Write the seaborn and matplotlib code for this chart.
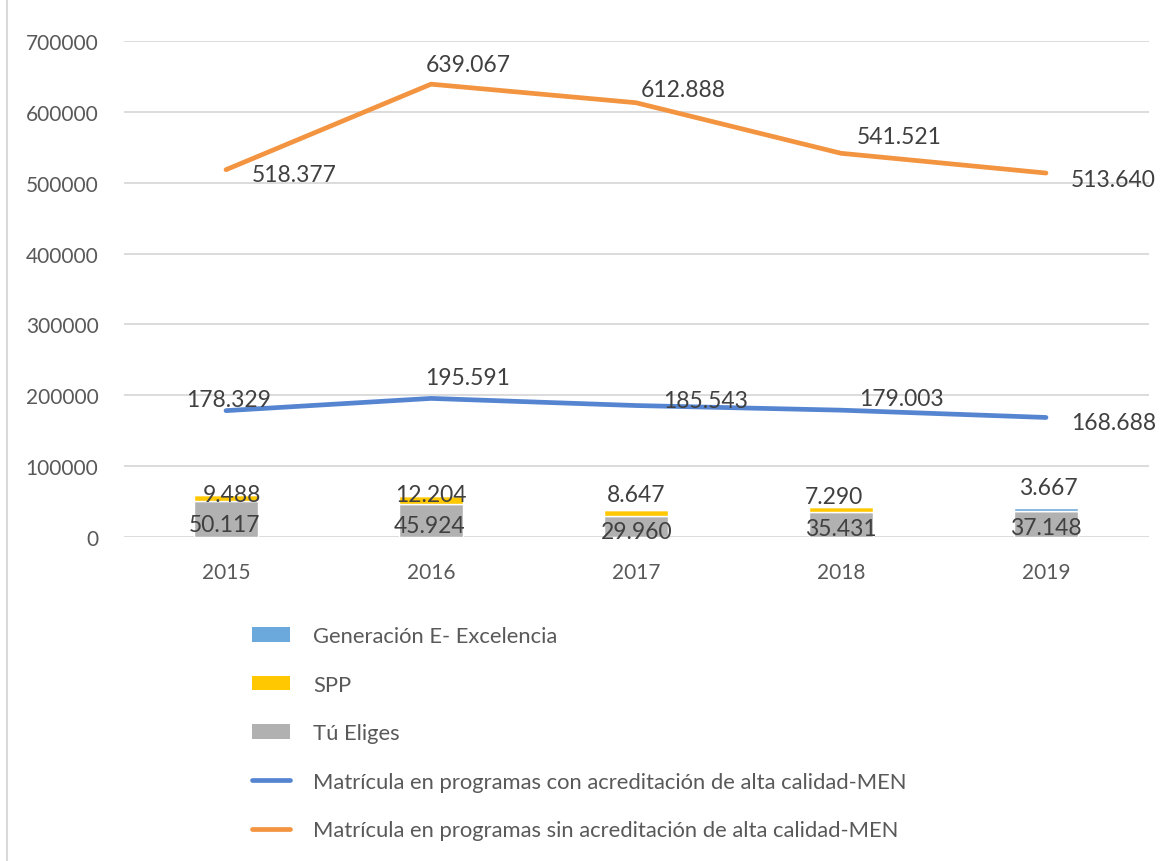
import numpy as np
import matplotlib
matplotlib.use("Agg")
import matplotlib.pyplot as plt
import seaborn as sns
import pandas as pd
from matplotlib.patches import Patch
from matplotlib.lines import Line2D

# ---------------- data ----------------
years = ["2015", "2016", "2017", "2018", "2019"]
tu_eliges = [50117, 45924, 29960, 35431, 37148]
spp = [9488, 12204, 8647, 7290, 0]
generacion_e = [0, 0, 0, 0, 3667]
con_acred = [178329, 195591, 185543, 179003, 168688]
sin_acred = [518377, 639067, 612888, 541521, 513640]

labels_legend = [
    "Generación E- Excelencia",
    "SPP",
    "Tú Eliges",
    "Matrícula en programas con acreditación de alta calidad-MEN",
    "Matrícula en programas sin acreditación de alta calidad-MEN",
]

# ---------------- style ----------------
sns.set_theme(style="white")
plt.rcParams["font.family"] = ["Lato", "DejaVu Sans"]

c_gray = "#B1B1B1"
c_yellow = "#FFC800"
c_lblue = "#6BA8DC"
c_blue = "#5585D0"
c_orange = "#F39441"
c_txt = "#404040"
c_tick = "#595959"
c_grid = "#D9D9D9"

W, H = 1176, 862
fig = plt.figure(figsize=(W / 100, H / 100), dpi=100)
ax = fig.add_axes([123.5 / W, 1 - 538 / H, (1148.5 - 123.5) / W, (538 - 42) / H])

x = np.arange(len(years))
bw = 0.317

df = pd.DataFrame({"x": x, "year": years, "con": con_acred, "sin": sin_acred})

# stacked bars
ax.bar(x, tu_eliges, width=bw, color=c_gray, zorder=2)
ax.bar(x, spp, width=bw, bottom=tu_eliges, color=c_yellow, zorder=2)
base2 = np.array(tu_eliges) + np.array(spp)
ax.bar(x, generacion_e, width=bw, bottom=base2, color=c_lblue, zorder=2)

# lines
sns.lineplot(data=df, x="x", y="con", ax=ax, color=c_blue, lw=3.4,
             solid_capstyle="round", zorder=3, legend=False)
sns.lineplot(data=df, x="x", y="sin", ax=ax, color=c_orange, lw=3.4,
             solid_capstyle="round", zorder=3, legend=False)

ax.set_xlim(-0.5, 4.5)
ax.set_ylim(0, 700000)
ax.set_yticks(np.arange(0, 700001, 100000))
ax.set_yticklabels([f"{int(v)}" for v in np.arange(0, 700001, 100000)])
ax.set_xticks(x)
ax.set_xticklabels(years)
ax.set_xlabel("")
ax.set_ylabel("")
ax.grid(axis="y", color=c_grid, lw=1.3, zorder=0)
ax.grid(axis="x", visible=False)
for s in ax.spines.values():
    s.set_visible(False)
ax.tick_params(axis="y", length=0, pad=18, labelsize=15, labelcolor=c_tick)
ax.tick_params(axis="x", length=0, pad=18, labelsize=15, labelcolor=c_tick)


def fmt(v):
    return f"{v:,}".replace(",", ".")


PX = 0.72  # points per pixel at dpi 100
lab_fs = 16.5

# label offsets in pixels (dx right, dy down)
off_sin = [(68, 3), (37, -22), (47, -15), (58, -19), (67, 4)]
off_con = [(3, -13), (37, -23), (70, -7.5), (60, -13.5), (68, 3)]
off_tu = [(-1.5, 3), (-1, 3), (1, 3), (0, 2), (0, 2)]
off_top = [(5.5, -2), (0, -3.3), (0, -17.6), (-7, -12.7), (2, -23)]


def lab(xv, yv, txt, off):
    ax.annotate(txt, (xv, yv), xytext=(off[0] * PX, -off[1] * PX),
                textcoords="offset points", ha="center", va="center_baseline",
                fontsize=lab_fs, color=c_txt, zorder=5)


for i in range(len(years)):
    lab(x[i], sin_acred[i], fmt(sin_acred[i]), off_sin[i])
    lab(x[i], con_acred[i], fmt(con_acred[i]), off_con[i])
    lab(x[i], tu_eliges[i] / 2, fmt(tu_eliges[i]), off_tu[i])
    top_val = spp[i] if spp[i] else generacion_e[i]
    top = tu_eliges[i] + spp[i] + generacion_e[i]
    lab(x[i], top, fmt(top_val), off_top[i])

# legend
handles = [
    Patch(facecolor=c_lblue, edgecolor="none"),
    Patch(facecolor=c_yellow, edgecolor="none"),
    Patch(facecolor=c_gray, edgecolor="none"),
    Line2D([0], [0], color=c_blue, lw=3.4, solid_capstyle="round"),
    Line2D([0], [0], color=c_orange, lw=3.4, solid_capstyle="round"),
]
leg = fig.legend(handles, labels_legend, loc="upper left",
                 bbox_to_anchor=(252 / W, 1 - 627 / H), frameon=False,
                 fontsize=15.8, labelcolor=c_tick, handlelength=1.73,
                 handleheight=0.64,
                 handletextpad=1.05, labelspacing=1.30, borderpad=0,
                 borderaxespad=0)

# chart frame left edge
fig.add_artist(Line2D([7 / W, 7 / W], [0, 1], transform=fig.transFigure,
                      color=c_grid, lw=1.5))

fig.savefig("out.png", dpi=100, facecolor="white")
